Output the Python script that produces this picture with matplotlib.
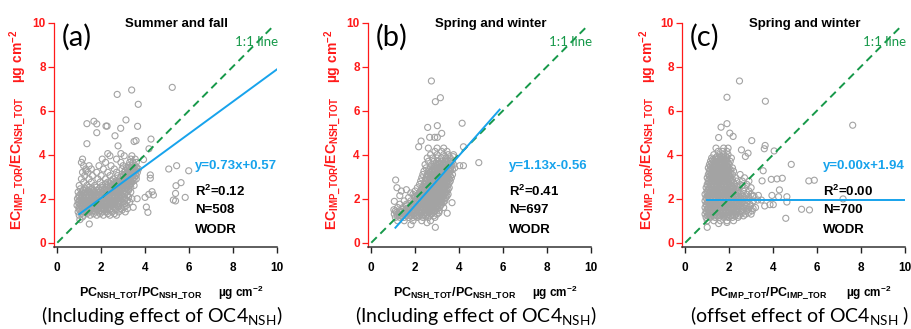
import matplotlib
matplotlib.use("Agg")
import matplotlib.pyplot as plt

plt.rcParams['mathtext.fontset'] = 'custom'
plt.rcParams['mathtext.rm'] = 'Lato'
plt.rcParams['mathtext.bf'] = 'Liberation Sans:bold'
plt.rcParams['mathtext.default'] = 'bf'
plt.rcParams['font.family'] = ['Liberation Sans', 'DejaVu Sans']

# ---------------- data ----------------
panel_labels = ['(a)', '(b)', '(c)']
titles = ['Summer and fall', 'Spring and winter', 'Spring and winter']
fit_slope = [0.73, 1.13, 0.00]
fit_icpt = [0.57, -0.56, 1.94]
fit_x0 = [1.0, 1.1, 1.0]
fit_x1 = [10.0, 5.85, 10.0]
fit_text = ['y=0.73x+0.57', 'y=1.13x-0.56', 'y=0.00x+1.94']
r2_text = ['0.12', '0.41', '0.00']
n_text = ['N=508', 'N=697', 'N=700']
xlabels = [r'$PC_{NSH\_TOT}/PC_{NSH\_TOR}$', r'$PC_{NSH\_TOT}/PC_{NSH\_TOR}$',
           r'$PC_{IMP\_TOT}/PC_{IMP\_TOR}$']
ylabel = r'$EC_{IMP\_TOR}/EC_{NSH\_TOT}$'
captions = [r'(Including effect of OC4$_{\mathrm{NSH}}$)',
            r'(Including effect of OC4$_{\mathrm{NSH}}$)',
            r'(offset effect of OC4$_{\mathrm{NSH}}$ )']
ticks = [0, 2, 4, 6, 8, 10]

# panel (a) dense cloud: row y-levels and x positions in each row
a_row_y = [1.25, 1.4, 1.55, 1.7, 1.85, 2.0, 2.15, 2.3, 2.45, 2.6, 2.75, 2.9, 3.05,
           3.2, 3.35, 3.5, 3.65, 3.8, 3.95, 4.05]
a_row_x = [
    [1.0, 1.2, 1.5, 1.8, 2.1, 2.4, 2.7],
    [0.95, 1.1, 1.3, 1.45, 1.6, 1.75, 1.9, 2.05, 2.25, 2.5, 2.8, 3.1],
    [1.0, 1.15, 1.3, 1.42, 1.55, 1.7, 1.85, 2.0, 2.15, 2.3, 2.45, 2.65, 2.9, 3.2],
    [0.9, 1.05, 1.2, 1.35, 1.5, 1.62, 1.78, 1.9, 2.05, 2.2, 2.35, 2.5, 2.7, 2.95, 3.15],
    [0.95, 1.1, 1.25, 1.4, 1.55, 1.7, 1.85, 2.0, 2.12, 2.28, 2.42, 2.6, 2.8, 3.0, 3.3],
    [0.92, 1.08, 1.22, 1.38, 1.52, 1.68, 1.82, 1.97, 2.1, 2.25, 2.4, 2.55, 2.72, 2.9, 3.1, 3.4],
    [1.0, 1.15, 1.3, 1.45, 1.6, 1.75, 1.9, 2.05, 2.2, 2.35, 2.5, 2.65, 2.8, 2.95, 3.2],
    [0.95, 1.12, 1.28, 1.5, 1.7, 1.88, 2.05, 2.22, 2.4, 2.55, 2.7, 2.85, 3.0, 3.15, 3.35],
    [1.05, 1.3, 1.6, 1.9, 2.15, 2.35, 2.5, 2.65, 2.8, 2.95, 3.1, 3.25],
    [1.0, 1.35, 1.7, 2.05, 2.3, 2.5, 2.7, 2.85, 3.0, 3.15, 3.3, 3.5],
    [1.2, 1.55, 1.95, 2.3, 2.6, 2.8, 2.95, 3.1, 3.25, 3.4],
    [1.1, 1.45, 1.85, 2.2, 2.55, 2.85, 3.0, 3.15, 3.3, 3.45, 3.6],
    [1.25, 1.6, 2.0, 2.4, 2.75, 3.0, 3.15, 3.3, 3.45, 3.6],
    [1.15, 1.4, 1.8, 2.3, 2.7, 3.05, 3.2, 3.35, 3.5, 3.65],
    [1.3, 1.55, 2.1, 2.6, 2.95, 3.2, 3.35, 3.5, 3.7],
    [1.2, 1.45, 1.9, 2.45, 3.0, 3.25, 3.4, 3.55],
    [1.1, 2.2, 2.9, 3.3, 3.45, 3.6],
    [1.15, 2.05, 2.7, 3.35, 3.55],
    [2.4, 3.05, 3.4],
    [2.3, 2.9],
]
a_fill_y = [1.32, 1.48, 1.62, 1.78, 1.92, 2.08, 2.22, 2.38, 2.52, 2.68, 2.82, 2.98,
            3.12, 3.28, 3.42]
a_fill_x = [
    [1.1, 1.35, 1.65, 1.95, 2.3, 2.6],
    [1.02, 1.22, 1.38, 1.52, 1.68, 1.82, 1.98, 2.15, 2.38, 2.65, 2.95],
    [0.98, 1.12, 1.25, 1.38, 1.5, 1.62, 1.78, 1.92, 2.08, 2.22, 2.38, 2.55, 2.78, 3.05],
    [1.0, 1.15, 1.3, 1.45, 1.6, 1.72, 1.85, 1.98, 2.12, 2.28, 2.45, 2.62, 2.85, 3.08],
    [1.02, 1.18, 1.32, 1.48, 1.62, 1.78, 1.92, 2.05, 2.2, 2.35, 2.5, 2.68, 2.88, 3.2],
    [0.98, 1.15, 1.3, 1.45, 1.6, 1.75, 1.9, 2.02, 2.18, 2.32, 2.48, 2.62, 2.8, 3.0, 3.25],
    [1.08, 1.22, 1.38, 1.55, 1.7, 1.82, 1.98, 2.12, 2.28, 2.42, 2.58, 2.72, 2.88, 3.08],
    [1.2, 1.42, 1.65, 1.8, 1.98, 2.15, 2.3, 2.48, 2.62, 2.78, 2.92, 3.08, 3.25],
    [1.45, 1.78, 2.05, 2.25, 2.42, 2.58, 2.72, 2.88, 3.02, 3.18, 3.35],
    [2.2, 2.42, 2.62, 2.78, 2.92, 3.05, 3.2, 3.35],
    [2.45, 2.7, 2.9, 3.05, 3.2, 3.35, 3.5],
    [2.9, 3.08, 3.22, 3.38, 3.52],
    [3.1, 3.25, 3.42, 3.55],
    [3.1, 3.28, 3.42, 3.6],
    [3.15, 3.3, 3.45, 3.62],
]
a_out_x = [5.24, 3.39, 2.73, 3.69, 3.13, 1.67, 1.35, 1.80, 2.22, 2.27, 2.89, 3.66, 1.80, 2.63,
           3.59, 3.50, 1.35, 4.27, 2.77, 4.18, 5.44, 5.08, 5.99, 5.64, 5.41, 5.39, 5.29, 5.39,
           5.83, 4.32, 4.38, 4.17, 4.00, 3.64, 3.46, 4.06, 4.13, 4.24, 4.24, 3.93, 1.03, 1.46,
           1.15, 1.31]
a_out_y = [7.06, 6.94, 6.74, 6.29, 5.58, 5.52, 5.41, 5.40, 5.30, 5.30, 5.20, 5.29, 5.00, 4.86,
           4.64, 4.60, 4.50, 4.71, 4.40, 4.27, 3.50, 3.35, 3.27, 2.73, 2.59, 2.24, 1.94, 1.90,
           2.06, 2.32, 2.17, 2.20, 2.06, 2.00, 1.61, 1.62, 1.38, 3.08, 2.93, 3.78, 1.05, 0.85,
           1.17, 3.27]

# panel (b)
b_row_y = [1.0, 1.15, 1.3, 1.45, 1.6, 1.75, 1.9, 2.05, 2.2, 2.35, 2.5, 2.65, 2.8, 2.95,
           3.1, 3.25, 3.4, 3.55, 3.7, 3.85, 4.0, 4.15, 4.3]
b_row_x = [
    [1.2, 1.5, 1.9, 2.3, 2.7],
    [1.1, 1.3, 1.5, 1.7, 1.9, 2.1, 2.35, 2.6, 2.9],
    [1.05, 1.25, 1.45, 1.62, 1.8, 1.95, 2.1, 2.25, 2.4, 2.55, 2.75, 3.0],
    [1.1, 1.3, 1.5, 1.7, 1.85, 2.0, 2.15, 2.3, 2.45, 2.6, 2.75, 2.9, 3.1],
    [1.2, 1.45, 1.7, 1.9, 2.05, 2.2, 2.35, 2.5, 2.65, 2.8, 2.95, 3.1, 3.3],
    [1.3, 1.6, 1.85, 2.05, 2.2, 2.35, 2.5, 2.62, 2.75, 2.9, 3.05, 3.2],
    [1.5, 1.8, 2.0, 2.2, 2.35, 2.5, 2.65, 2.78, 2.92, 3.05, 3.2, 3.35],
    [1.7, 2.0, 2.2, 2.35, 2.5, 2.62, 2.75, 2.88, 3.0, 3.12, 3.25, 3.4],
    [1.9, 2.15, 2.3, 2.45, 2.6, 2.72, 2.85, 2.98, 3.1, 3.22, 3.35, 3.5],
    [2.0, 2.25, 2.4, 2.55, 2.68, 2.8, 2.92, 3.05, 3.18, 3.3, 3.45],
    [2.1, 2.3, 2.48, 2.62, 2.75, 2.88, 3.0, 3.12, 3.25, 3.38, 3.55],
    [2.2, 2.4, 2.58, 2.72, 2.85, 2.98, 3.1, 3.22, 3.35, 3.5],
    [2.25, 2.45, 2.62, 2.78, 2.92, 3.05, 3.18, 3.3, 3.45, 3.6],
    [2.3, 2.5, 2.68, 2.82, 2.95, 3.08, 3.2, 3.35, 3.5, 3.65],
    [2.35, 2.55, 2.72, 2.88, 3.0, 3.12, 3.25, 3.4, 3.55, 3.7],
    [2.4, 2.6, 2.78, 2.92, 3.05, 3.18, 3.3, 3.45, 3.6],
    [2.5, 2.7, 2.85, 3.0, 3.15, 3.3, 3.45, 3.62, 3.8],
    [2.45, 2.75, 2.95, 3.1, 3.25, 3.4, 3.55, 3.75],
    [2.6, 2.85, 3.05, 3.2, 3.35, 3.5, 3.7],
    [2.55, 2.8, 3.0, 3.2, 3.4, 3.6],
    [2.7, 3.0, 3.3, 3.5, 3.75],
    [2.9, 3.2, 3.45],
    [2.6, 3.0, 3.3],
]
b_fill_y = [1.22, 1.38, 1.52, 1.68, 1.82, 1.98, 2.12, 2.28, 2.42, 2.58, 2.72, 2.88, 3.02,
            3.18, 3.32, 3.48, 3.62]
b_fill_x = [
    [1.2, 1.4, 1.6, 1.8, 2.0, 2.18, 2.32, 2.48, 2.65, 2.85],
    [1.15, 1.35, 1.55, 1.72, 1.88, 2.02, 2.18, 2.32, 2.48, 2.62, 2.85],
    [1.4, 1.6, 1.78, 1.92, 2.08, 2.22, 2.38, 2.52, 2.68, 2.82, 3.0],
    [1.6, 1.8, 1.98, 2.12, 2.28, 2.42, 2.55, 2.7, 2.85, 3.0, 3.15],
    [1.95, 2.12, 2.28, 2.42, 2.55, 2.7, 2.82, 2.98, 3.12, 3.28],
    [2.1, 2.28, 2.42, 2.57, 2.7, 2.82, 2.95, 3.08, 3.2, 3.32],
    [2.08, 2.25, 2.4, 2.55, 2.68, 2.8, 2.92, 3.05, 3.18, 3.3, 3.45],
    [2.2, 2.35, 2.5, 2.62, 2.75, 2.88, 3.0, 3.12, 3.25, 3.4],
    [2.3, 2.45, 2.6, 2.72, 2.85, 2.98, 3.1, 3.22, 3.35, 3.5],
    [2.4, 2.52, 2.68, 2.8, 2.92, 3.05, 3.18, 3.3, 3.45],
    [2.5, 2.65, 2.78, 2.9, 3.02, 3.15, 3.28, 3.42, 3.55],
    [2.55, 2.72, 2.85, 2.98, 3.12, 3.25, 3.4, 3.55],
    [2.6, 2.78, 2.92, 3.05, 3.18, 3.3, 3.45, 3.6],
    [2.7, 2.85, 2.98, 3.12, 3.25, 3.38, 3.52],
    [2.78, 2.92, 3.08, 3.22, 3.38, 3.52, 3.7],
    [2.85, 3.02, 3.18, 3.32, 3.48, 3.65],
    [2.95, 3.12, 3.28, 3.42, 3.6],
]
b_out_x = [2.74, 3.15, 2.92, 4.14, 2.57, 3.01, 3.21, 2.66, 2.89, 3.01, 2.27, 2.16, 4.20, 4.90,
           4.20, 4.03, 3.73, 1.11, 1.17, 1.37, 1.60, 1.05, 1.30, 1.80, 1.96, 2.11, 1.81, 2.54,
           2.92, 3.46, 3.68, 3.08, 2.47, 2.05, 1.03]
b_out_y = [7.35, 6.59, 6.41, 5.43, 5.24, 5.32, 4.97, 4.79, 4.79, 4.79, 4.62, 4.36, 4.36, 3.64,
           3.50, 3.50, 3.91, 2.85, 2.50, 2.35, 2.41, 1.88, 2.14, 2.26, 2.11, 2.11, 0.82, 0.91,
           0.70, 1.34, 1.82, 1.36, 1.34, 1.20, 1.50]

# panel (c)
c_row_y = [1.0, 1.15, 1.3, 1.45, 1.6, 1.75, 1.9, 2.05, 2.2, 2.35, 2.5, 2.65, 2.8, 2.95,
           3.1, 3.25, 3.4, 3.55, 3.7, 3.85, 4.0, 4.15, 4.3]
c_row_x = [
    [1.0, 1.3, 1.6, 1.9, 2.2],
    [0.95, 1.15, 1.35, 1.55, 1.75, 1.95, 2.15, 2.4],
    [0.9, 1.05, 1.2, 1.35, 1.5, 1.65, 1.8, 1.95, 2.1, 2.3, 2.5, 2.75, 3.0],
    [0.95, 1.1, 1.25, 1.4, 1.55, 1.7, 1.85, 2.0, 2.15, 2.35, 2.55, 2.8, 3.05],
    [0.9, 1.05, 1.2, 1.35, 1.5, 1.65, 1.8, 1.95, 2.1, 2.25, 2.45, 2.65, 2.9, 3.2],
    [0.95, 1.1, 1.25, 1.4, 1.55, 1.7, 1.85, 2.0, 2.15, 2.3, 2.5, 2.7, 2.95],
    [0.9, 1.05, 1.2, 1.35, 1.5, 1.65, 1.8, 1.95, 2.1, 2.25, 2.45, 2.6, 2.85, 3.1],
    [0.95, 1.1, 1.25, 1.4, 1.55, 1.7, 1.85, 2.0, 2.15, 2.3, 2.5, 2.7, 2.9],
    [0.9, 1.05, 1.2, 1.35, 1.5, 1.65, 1.8, 1.95, 2.1, 2.3, 2.55, 2.8, 3.0],
    [1.0, 1.15, 1.3, 1.45, 1.6, 1.75, 1.9, 2.05, 2.2, 2.4, 2.65, 2.9],
    [0.95, 1.1, 1.25, 1.4, 1.55, 1.7, 1.85, 2.0, 2.2, 2.45, 2.7, 3.0],
    [1.0, 1.15, 1.3, 1.45, 1.6, 1.75, 1.9, 2.05, 2.25, 2.5, 2.8],
    [1.05, 1.2, 1.35, 1.5, 1.65, 1.8, 1.95, 2.1, 2.35, 2.6, 2.9],
    [1.0, 1.15, 1.3, 1.45, 1.6, 1.75, 1.9, 2.05, 2.3, 2.7],
    [1.05, 1.2, 1.35, 1.5, 1.65, 1.8, 1.95, 2.15, 2.5],
    [1.1, 1.25, 1.4, 1.55, 1.7, 1.85, 2.0, 2.2],
    [1.05, 1.2, 1.35, 1.5, 1.65, 1.8, 1.95, 2.15],
    [1.1, 1.25, 1.4, 1.55, 1.7, 1.85, 2.0],
    [1.15, 1.3, 1.45, 1.6, 1.75, 1.9, 2.05],
    [1.2, 1.4, 1.6, 1.75, 1.9, 2.1],
    [1.3, 1.55, 1.75, 1.95],
    [1.5, 1.7, 1.9],
    [1.4, 1.75, 1.95],
]
c_fill_y = [1.22, 1.38, 1.52, 1.68, 1.82, 1.98, 2.12, 2.28, 2.42, 2.58, 2.72, 2.88, 3.02,
            3.18, 3.32, 3.48, 3.62, 3.78, 3.92]
c_fill_x = [
    [1.02, 1.18, 1.32, 1.48, 1.62, 1.78, 1.92, 2.08, 2.25, 2.45, 2.65],
    [0.98, 1.12, 1.28, 1.42, 1.58, 1.72, 1.88, 2.02, 2.2, 2.4, 2.62, 2.9],
    [1.02, 1.18, 1.32, 1.48, 1.62, 1.78, 1.92, 2.08, 2.22, 2.4, 2.6, 2.85],
    [0.98, 1.12, 1.28, 1.42, 1.58, 1.72, 1.88, 2.02, 2.18, 2.35, 2.55, 2.78],
    [1.02, 1.18, 1.32, 1.48, 1.62, 1.78, 1.92, 2.08, 2.22, 2.4, 2.6, 2.8],
    [0.98, 1.12, 1.28, 1.42, 1.58, 1.72, 1.88, 2.02, 2.18, 2.38, 2.55, 2.78],
    [1.02, 1.18, 1.32, 1.48, 1.62, 1.78, 1.92, 2.08, 2.22, 2.42, 2.62],
    [0.98, 1.12, 1.28, 1.42, 1.58, 1.72, 1.88, 2.02, 2.18, 2.45],
    [1.05, 1.2, 1.35, 1.5, 1.65, 1.8, 1.95, 2.1, 2.3],
    [1.02, 1.18, 1.32, 1.48, 1.62, 1.78, 1.92, 2.1, 2.35],
    [1.08, 1.22, 1.38, 1.52, 1.68, 1.82, 1.98, 2.2],
    [1.08, 1.22, 1.38, 1.52, 1.68, 1.82, 1.98, 2.15],
    [1.1, 1.25, 1.4, 1.55, 1.7, 1.85, 2.0],
    [1.12, 1.28, 1.42, 1.58, 1.72, 1.88, 2.05],
    [1.12, 1.28, 1.42, 1.58, 1.72, 1.88, 2.05],
    [1.15, 1.32, 1.48, 1.62, 1.78, 1.92],
    [1.2, 1.35, 1.5, 1.65, 1.8, 1.95],
    [1.25, 1.42, 1.58, 1.72, 1.88],
    [1.45, 1.65, 1.85],
]
c_out_x = [2.47, 1.90, 3.65, 7.63, 1.90, 1.63, 2.03, 2.18, 1.52, 3.03, 3.64, 3.60, 2.56, 2.86,
           2.74, 4.05, 4.83, 3.55, 4.42, 4.18, 3.92, 5.63, 5.88, 3.50, 4.29, 3.13, 3.33, 3.95,
           4.25, 4.63, 3.86, 4.01, 3.62, 3.47, 5.30, 5.66, 4.63, 7.19, 4.58, 2.97, 3.09, 1.90,
           1.52, 1.00, 2.60, 3.07, 3.30]
c_out_y = [7.35, 6.61, 6.43, 5.34, 5.41, 5.25, 4.98, 4.83, 4.78, 4.64, 4.42, 4.27, 4.22, 4.07,
           3.92, 4.17, 3.56, 3.27, 2.93, 2.90, 2.88, 2.81, 2.84, 2.81, 2.40, 2.13, 2.15, 2.15,
           2.09, 1.85, 1.73, 1.73, 1.67, 1.94, 1.52, 1.49, 2.09, 1.99, 1.11, 1.67, 1.56, 0.92,
           0.87, 0.70, 2.60, 2.12, 1.94]

row_y = [a_row_y + a_fill_y, b_row_y + b_fill_y, c_row_y + c_fill_y]
row_x = [a_row_x + a_fill_x, b_row_x + b_fill_x, c_row_x + c_fill_x]
out_x = [a_out_x, b_out_x, c_out_x]
out_y = [a_out_y, b_out_y, c_out_y]

# ---------------- styling ----------------
RED = '#FF1A1A'
BLUE = '#17A3EC'
GREEN = '#17994A'
GREY = '#A3A3A3'

fig = plt.figure(figsize=(9.12, 3.29), dpi=100)
lefts = [0.0592, 0.4035, 0.7478]
ylab_x = [18, 333, 648]
cap_x = [162, 476, 800]
xlab_frac = [0.39, 0.39, 0.39]
unit_frac = [0.84, 0.84, 0.84]

for i in range(3):
    ax = fig.add_axes([lefts[i], 0.2502, 0.2442, 0.6809])
    xs = []
    ys = []
    for yv, row in zip(row_y[i], row_x[i]):
        for xv in row:
            xs.append(xv)
            ys.append(yv)
    xs += out_x[i]
    ys += out_y[i]
    ax.scatter(xs, ys, s=19, facecolors='none', edgecolors=GREY, linewidths=0.8, zorder=2)

    ax.plot([0, 9.8], [0, 9.8], color=GREEN, lw=1.4, dashes=(4.0, 2.6), zorder=3)
    fx = [fit_x0[i], fit_x1[i]]
    ax.plot(fx, [fit_slope[i] * v + fit_icpt[i] for v in fx], color=BLUE, lw=1.4, zorder=4)

    ax.set_xlim(-0.15, 10)
    ax.set_ylim(-0.18, 10)
    ax.set_xticks(ticks)
    ax.set_yticks(ticks)
    for s in ['top', 'right']:
        ax.spines[s].set_visible(False)
    ax.spines['left'].set_color(RED)
    ax.spines['left'].set_linewidth(0.9)
    ax.spines['bottom'].set_color('#333333')
    ax.spines['bottom'].set_linewidth(1.1)
    ax.tick_params(axis='y', colors=RED, length=4, width=0.9, pad=2, labelsize=8.5)
    ax.tick_params(axis='x', colors='#222222', length=4.5, width=1.0, pad=6.5, labelsize=8.5)
    for lab in ax.get_yticklabels():
        lab.set_fontweight('bold')
        lab.set_color(RED)
    for lab in ax.get_xticklabels():
        lab.set_fontweight('bold')
        lab.set_color('black')

    ax.text(0.035, 0.935, panel_labels[i], transform=ax.transAxes, fontsize=21,
            family='Lato', ha='left', va='center')
    ax.text(0.55, 0.995, titles[i], transform=ax.transAxes, fontsize=9.5,
            fontweight='bold', ha='center', va='center')
    ax.text(8.1, 9.1, '1:1 line', fontsize=9.5, family='Lato', color=GREEN,
            ha='left', va='center')

    tx = 6.28
    ax.text(tx, 3.5, fit_text[i], color=BLUE, fontsize=9.5, fontweight='bold', va='center')
    ax.text(tx, 2.32, 'R$^{2}$=' + r2_text[i], color='black', fontsize=9.5,
            fontweight='bold', va='center')
    ax.text(tx, 1.49, n_text[i], color='black', fontsize=9.5, fontweight='bold', va='center')
    ax.text(tx, 0.6, 'WODR', color='black', fontsize=9.5, fontweight='bold', va='center')

    ax.text(xlab_frac[i], -0.207, xlabels[i], transform=ax.transAxes, fontsize=9,
            ha='center', va='center')
    ax.text(unit_frac[i], -0.207, 'µg cm$^{-2}$', transform=ax.transAxes, fontsize=8.5,
            fontweight='bold', ha='center', va='center')

    fig.text(ylab_x[i] / 912, 1 - 163 / 329, ylabel, fontsize=10, color=RED,
             rotation=90, ha='center', va='center')
    fig.text(ylab_x[i] / 912, 1 - 56 / 329, 'µg cm$^{-2}$', fontsize=10, color=RED,
             fontweight='bold', rotation=90, ha='center', va='center')

    fig.text(cap_x[i] / 912, 1 - 322 / 329, captions[i], fontsize=14, family='Lato',
             ha='center', va='baseline')

fig.savefig('out.png', dpi=100)
